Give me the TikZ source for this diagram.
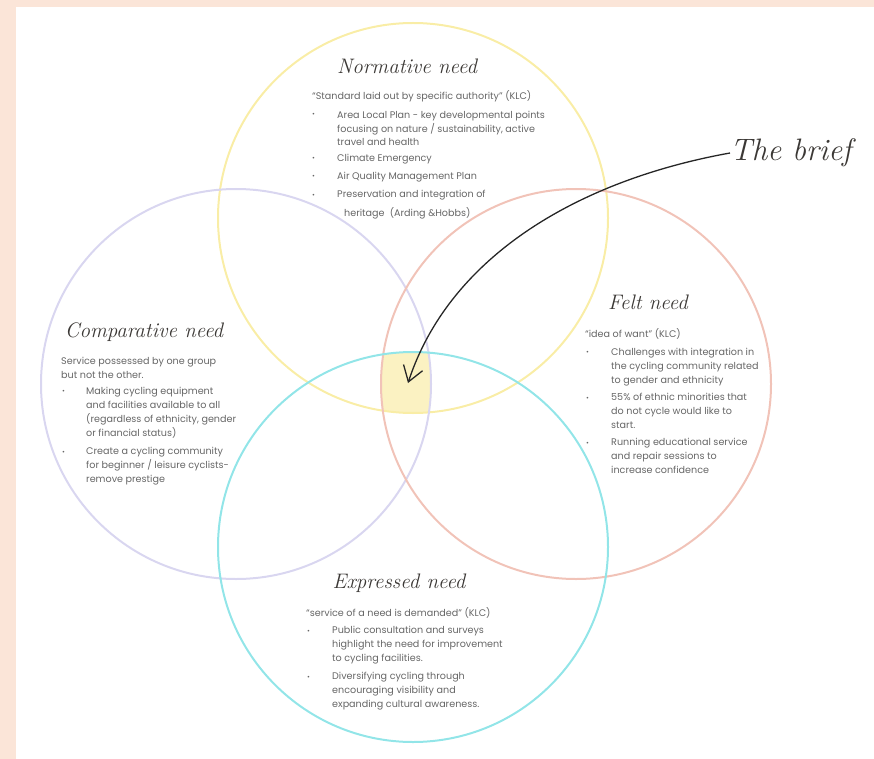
\documentclass[tikz,border=0pt]{standalone}
\usepackage{fontspec}
\newfontfamily\bodyf{Poppins}
\usetikzlibrary{arrows.meta}
\definecolor{peach}{HTML}{FBE5D8}
\definecolor{ycol}{HTML}{F9EDA6}
\definecolor{pcol}{HTML}{D9D6F0}
\definecolor{rcol}{HTML}{F1C3B8}
\definecolor{ccol}{HTML}{92E5E8}
\definecolor{fillyel}{HTML}{FBF2C2}
\definecolor{txtgray}{HTML}{666666}
\definecolor{headc}{HTML}{3B3835}
\begin{document}
\begin{tikzpicture}[x=1pt,y=-1pt,
  body/.style={anchor=base west, align=left, inner sep=0pt, font=\bodyf\fontsize{9.6}{13.8}\selectfont, text=txtgray},
  bul/.style={anchor=base west, inner sep=0pt, font=\bodyf\fontsize{7}{7}\selectfont, text=txtgray},
  head/.style={inner sep=0pt, font=\itshape\fontsize{21}{21}\selectfont, text=headc},
  ring/.style={line width=2pt}]
\useasboundingbox (0,0) rectangle (874,759);
\fill[peach] (0,0) rectangle (874,7);
\fill[peach] (0,0) rectangle (16,759);
% central overlap
\begin{scope}
\clip (413,218) circle[radius=195pt];
\clip (236,384) circle[radius=195pt];
\clip (576,384) circle[radius=195pt];
\fill[fillyel] (413,547) circle[radius=195pt];
\end{scope}
% circles
\draw[ring, ycol] (413,218) circle[radius=195pt];
\draw[ring, pcol] (236,384) circle[radius=195pt];
\draw[ring, rcol] (576,384) circle[radius=195pt];
\draw[ring, ccol] (413,547) circle[radius=195pt];

% Normative (multi-line nodes are placed by the baseline of their last line)
\node[head] (nh) at (407,66) {Normative need};
\node[body] (n0) at (312,100) {“Standard laid out by specific authority” (KLC)};
\node[bul] (nb1) at (312,117) {•};
\node[body] (n1) at (337,146) {Area Local Plan - key developmental points\\focusing on nature / sustainability, active\\travel and health};
\node[bul] (nb2) at (312,161) {•};
\node[body] (n2) at (337,162) {Climate Emergency};
\node[bul] (nb3) at (312,179) {•};
\node[body] (n3) at (337,180) {Air Quality Management Plan};
\node[bul] (nb4) at (312,197) {•};
\node[body] (n4) at (337,198) {Preservation and integration of};
\node[body] (n5) at (344,216) {heritage\ \ (Arding \&Hobbs)};

% Comparative
\node[head] (ch) at (144,332) {Comparative need};
\node[body] (c0) at (61,378) {Service possessed by one group\\but not the other.};
\node[bul] (cb1) at (62,393) {•};
\node[body] (c1) at (86,436) {Making cycling equipment\\and facilities available to all\\(regardless of ethnicity, gender\\or financial status)};
\node[bul] (cb2) at (62,454) {•};
\node[body] (c2) at (86,482) {Create a cycling community\\for beginner / leisure cyclists-\\remove prestige};

% Felt
\node[head] (fh) at (648,302) {Felt need};
\node[body] (f0) at (585,337) {“idea of want” (KLC)};
\node[bul] (fb1) at (586,354) {•};
\node[body] (f1) at (611,383) {Challenges with integration in\\the cycling community related\\to gender and ethnicity};
\node[bul] (fb2) at (586,400) {•};
\node[body] (f2) at (611,428) {55\% of ethnic minorities that\\do not cycle would like to\\start.};
\node[bul] (fb3) at (586,445) {•};
\node[body] (f3) at (611,473) {Running educational service\\and repair sessions to\\increase confidence};

% Expressed
\node[head] (eh) at (399,583) {Expressed need};
\node[body] (e0) at (306,616) {“service of a need is demanded” (KLC)};
\node[bul] (eb1) at (307,633) {•};
\node[body] (e1) at (332,661) {Public consultation and surveys\\highlight the need for improvement\\to cycling facilities.};
\node[bul] (eb2) at (307,679) {•};
\node[body] (e2) at (332,707) {Diversifying cycling through\\encouraging visibility and\\expanding cultural awareness.};

% The brief
\node[head, anchor=west, font=\itshape\fontsize{31}{31}\selectfont] (brief) at (730,153) {The brief};
\coordinate (tip) at (408,383);
\draw[line width=1.3pt, black!85, -{Straight Barb[length=15pt,width=20pt,line width=1.3pt]}]
  (brief.west) .. controls (580,180) and (450,255) .. (tip);
\end{tikzpicture}
\end{document}
